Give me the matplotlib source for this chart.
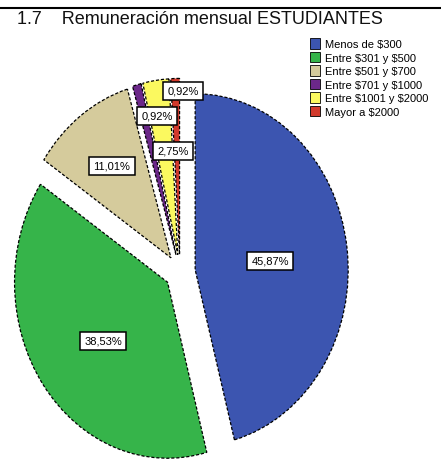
import matplotlib
matplotlib.use("Agg")
import matplotlib.pyplot as plt
from matplotlib.patches import Patch

# ---- data ----
categories = ["Menos de $300", "Entre $301 y $500", "Entre $501 y $700",
              "Entre $701 y $1000", "Entre $1001 y $2000", "Mayor a $2000"]
percentages = [45.87, 38.53, 11.01, 0.92, 2.75, 0.92]
title = "1.7    Remuneración mensual ESTUDIANTES"

# ---- style ----
colors = ["#3c55b0", "#36b44a", "#d5cb9c", "#6b2889", "#fbf95f", "#d23a2c"]
explode = [0.1, 0.1, 0.1, 0.1, 0.1, 0.1]
W, H = 441, 460
cx, cy, rx, ry = 180.0, 273.0, 153.0, 176.0   # pie centre / radii in pixels

plt.rcParams['text.parse_math'] = False
plt.rcParams['font.family'] = ['Liberation Sans', 'DejaVu Sans']

fig = plt.figure(figsize=(W / 100, H / 100), dpi=100)
ax = fig.add_axes([0, 0, 1, 1])
wedges, _ = ax.pie(percentages, colors=colors, explode=explode, startangle=90,
                   counterclock=False, radius=1.0,
                   wedgeprops=dict(edgecolor="black", linewidth=0.9, linestyle=(0, (2.5, 1.5))))
ax.set_aspect('auto')
ax.set_xlim((0 - cx) / rx, (W - cx) / rx)
ax.set_ylim((cy - H) / ry, cy / ry)
ax.axis('off')

def px(x, y):
    return (x - cx) / rx, (cy - y) / ry

# label positions (pixel layout)
label_px = [(270, 262), (103, 342), (112, 167), (157, 117), (173, 152), (183, 92)]
for p, (lx, ly) in zip(percentages, label_px):
    x, y = px(lx, ly)
    ax.text(x, y, f"{p:.2f}".replace('.', ',') + "%", ha='center', va='center',
            fontsize=8, color='black',
            bbox=dict(boxstyle='square,pad=0.4', facecolor='white', edgecolor='black', linewidth=1.1))

# top rule and title
fig.add_artist(plt.Line2D([0, 1], [1 - 8.5 / H, 1 - 8.5 / H], color='black', linewidth=1.5))
fig.text(17 / W, 1 - 20 / H, title, fontsize=13, ha='left', va='center', color='#111111')

handles = [Patch(facecolor=c, edgecolor='black', linewidth=0.6) for c in colors]
fig.legend(handles, categories, loc='upper left', bbox_to_anchor=(310 / W, 1 - 39 / H),
           frameon=False, prop=dict(size=8),
           handlelength=0.9, handleheight=1.1,
           handletextpad=0.45, labelspacing=0.22, borderaxespad=0, borderpad=0)

fig.savefig("out.png", dpi=100)
